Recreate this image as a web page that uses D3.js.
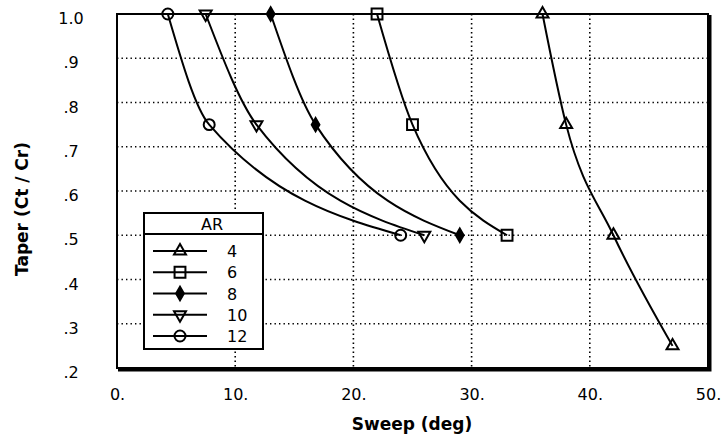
<!DOCTYPE html>
<html>
<head>
<meta charset="utf-8">
<script src="https://cdn.jsdelivr.net/npm/d3@7"></script>
<style>
  html, body { margin: 0; background: #fff; overflow: hidden; }
  svg { display: block; }
  text { font-family: "DejaVu Sans", sans-serif; fill: #000; }
  .tick text { font-size: 16px; }
  .title { font-size: 17px; font-weight: bold; }
  .legend text { font-size: 16px; }
</style>
</head>
<body>
<svg width="722" height="439"></svg>
<script>
// values: sweep (deg) at each taper ratio, one array per aspect ratio
const arLabels = ['4', '6', '8', '10', '12'];
const tapers = [1.0, 0.75, 0.5, 0.25];
const sweepAR4 = [36, 38, 42, 47];
const sweepAR6 = [22, 25, 33];
const sweepAR8 = [13, 16.8, 29];
const sweepAR10 = [7.5, 11.8, 26];
const sweepAR12 = [4.3, 7.8, 24];

const xTicks = [0, 10, 20, 30, 40, 50];
const xTickLabels = ['0.', '10.', '20.', '30.', '40.', '50.'];
const yTicks = [0.2, 0.3, 0.4, 0.5, 0.6, 0.7, 0.8, 0.9, 1.0];
const yTickLabels = ['.2', '.3', '.4', '.5', '.6', '.7', '.8', '.9', '1.0'];

const svg = d3.select('svg');
const margin = {top: 14, right: 14, bottom: 71, left: 117};
const width = +svg.attr('width');
const height = +svg.attr('height');
const innerWidth = width - margin.left - margin.right;
const innerHeight = height - margin.top - margin.bottom;

const series = [
  {ar: arLabels[0], sweep: sweepAR4, shape: 'tri'},
  {ar: arLabels[1], sweep: sweepAR6, shape: 'square'},
  {ar: arLabels[2], sweep: sweepAR8, shape: 'diamond'},
  {ar: arLabels[3], sweep: sweepAR10, shape: 'triDown'},
  {ar: arLabels[4], sweep: sweepAR12, shape: 'circle'}
].map(s => ({...s, points: s.sweep.map((v, i) => ({x: v, y: tapers[i]}))}));

const xScale = d3.scaleLinear().domain([0, 50]).range([0, innerWidth]);
const yScale = d3.scaleLinear().domain([0.2, 1.0]).range([innerHeight, 0]);

const g = svg.append('g')
  .attr('transform', `translate(${margin.left}, ${margin.top})`);

// dotted grid
const grid = g.append('g')
  .attr('stroke', '#000')
  .attr('stroke-width', 1.6)
  .attr('stroke-dasharray', '1.4 3.1');
grid.selectAll('.vgrid').data(xTicks.slice(1, -1))
  .enter().append('line')
  .attr('x1', d => xScale(d)).attr('x2', d => xScale(d))
  .attr('y1', 0).attr('y2', innerHeight);
grid.selectAll('.hgrid').data(yTicks.slice(1, -1))
  .enter().append('line')
  .attr('x1', 0).attr('x2', innerWidth)
  .attr('y1', d => yScale(d)).attr('y2', d => yScale(d));

// axes (labels only)
const xAxis = d3.axisBottom(xScale)
  .tickValues(xTicks)
  .tickSize(0)
  .tickFormat((d, i) => xTickLabels[i]);
const xg = g.append('g')
  .attr('transform', `translate(0, ${innerHeight})`)
  .call(xAxis);
xg.select('.domain').remove();
xg.selectAll('text').attr('y', 32).attr('dy', 0);

const yAxis = d3.axisLeft(yScale)
  .tickValues(yTicks)
  .tickSize(0)
  .tickFormat((d, i) => yTickLabels[i]);
const yg = g.append('g').call(yAxis);
yg.select('.domain').remove();
yg.selectAll('text')
  .attr('text-anchor', 'middle')
  .attr('x', -46)
  .attr('dy', 0)
  .attr('y', 9.5);

// curves
const line = d3.line()
  .x(d => xScale(d.x))
  .y(d => yScale(d.y))
  .curve(d3.curveMonotoneX);

g.selectAll('.curve').data(series)
  .enter().append('path')
  .attr('class', 'curve')
  .attr('d', d => line(d.points))
  .attr('fill', 'none')
  .attr('stroke', '#000')
  .attr('stroke-width', 2);

const symbolFor = shape => {
  if (shape === 'tri' || shape === 'triDown') return d3.symbol(d3.symbolTriangle, 62)();
  if (shape === 'square') return d3.symbol(d3.symbolSquare, 118)();
  if (shape === 'diamond') return d3.symbol(d3.symbolDiamond, 52)();
  return d3.symbol(d3.symbolCircle, 95)();
};
const drawMarker = (sel, shape) => sel
  .attr('d', symbolFor(shape))
  .attr('fill', shape === 'diamond' ? '#000' : 'none')
  .attr('stroke', '#000')
  .attr('stroke-width', 2);

series.forEach(s => {
  g.selectAll(null).data(s.points)
    .enter().append('path')
    .attr('transform', d => `translate(${xScale(d.x)}, ${yScale(d.y)})` + (s.shape === 'triDown' ? ' rotate(180)' : ''))
    .call(drawMarker, s.shape);
});

// frame with heavier right / bottom edge
g.append('rect')
  .attr('width', innerWidth).attr('height', innerHeight)
  .attr('fill', 'none').attr('stroke', '#000').attr('stroke-width', 2);
g.append('path')
  .attr('d', `M${innerWidth + 2},1V${innerHeight + 2}H1`)
  .attr('fill', 'none').attr('stroke', '#000').attr('stroke-width', 3);

// legend
const legend = g.append('g').attr('class', 'legend')
  .attr('transform', 'translate(27, 199)');
legend.append('rect')
  .attr('width', 119).attr('height', 136)
  .attr('fill', '#fff').attr('stroke', '#000').attr('stroke-width', 2);
legend.append('line')
  .attr('x1', 0).attr('x2', 119).attr('y1', 21).attr('y2', 21)
  .attr('stroke', '#000').attr('stroke-width', 2);
legend.append('text')
  .attr('x', 68).attr('y', 17).attr('text-anchor', 'middle')
  .text('AR');

const legendY = d3.scalePoint().domain(arLabels).range([38, 123]);
const rows = legend.selectAll('.row').data(series)
  .enter().append('g')
  .attr('transform', d => `translate(0, ${legendY(d.ar)})`);
rows.append('line')
  .attr('x1', 9).attr('x2', 63)
  .attr('stroke', '#000').attr('stroke-width', 2);
rows.each(function(d) {
  d3.select(this).append('path')
    .attr('transform', 'translate(36, 0)' + (d.shape === 'triDown' ? ' rotate(180)' : ''))
    .call(drawMarker, d.shape);
});
rows.append('text')
  .attr('x', 83).attr('y', 6)
  .text(d => d.ar);

// axis titles
svg.append('text')
  .attr('class', 'title')
  .attr('text-anchor', 'middle')
  .attr('x', 412)
  .attr('y', 430)
  .text('Sweep (deg)');

svg.append('text')
  .attr('class', 'title')
  .attr('text-anchor', 'middle')
  .attr('transform', 'translate(28, 209) rotate(-90)')
  .text('Taper (Ct / Cr)');
</script>
</body>
</html>
